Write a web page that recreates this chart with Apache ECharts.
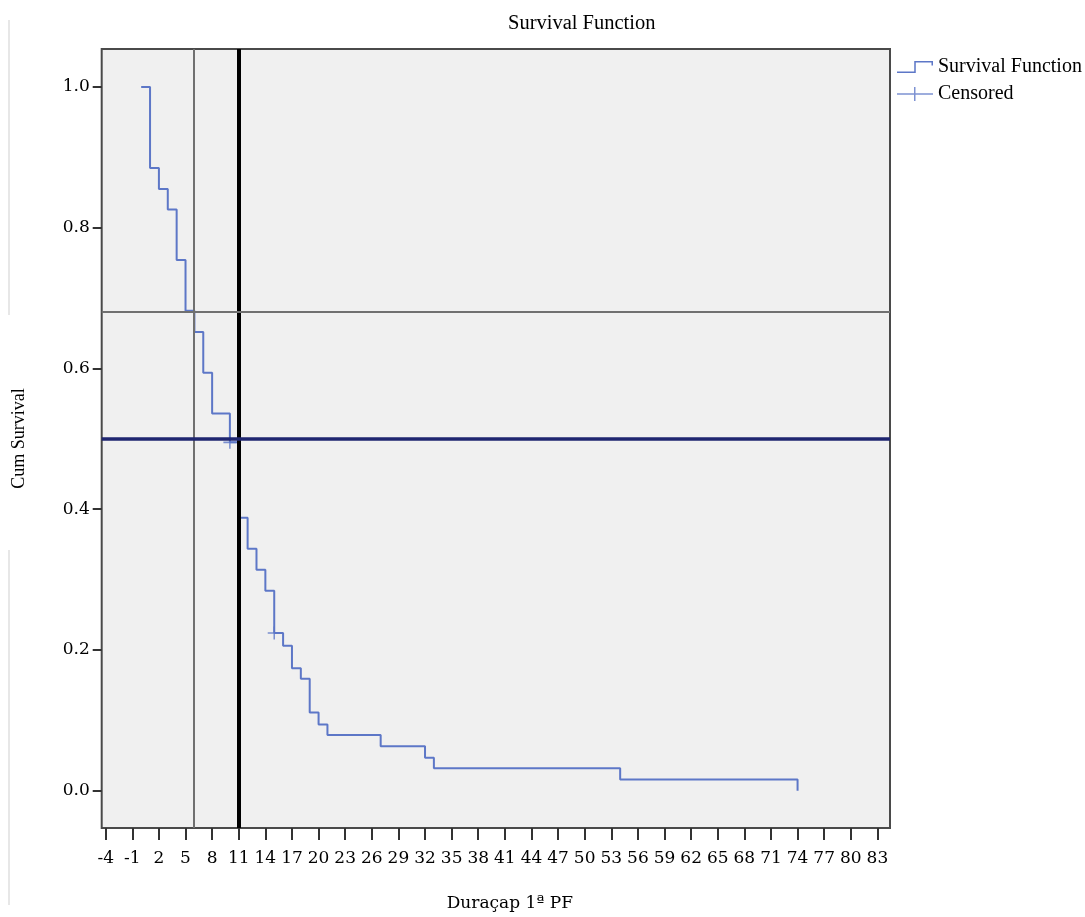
<!DOCTYPE html>
<html>
<head>
<meta charset="utf-8">
<script src="https://cdn.jsdelivr.net/npm/echarts@6.0.0/dist/echarts.min.js"></script>
<style>
  body { margin: 0; background: #fff; }
  #chart1 { width: 1085px; height: 917px; }
</style>
</head>
<body>
<div id="chart1"></div>
<script>
// step times and survival value after each step
const times = [0, 1, 2, 3, 4, 5, 6, 7, 8, 10, 11, 12, 13, 14, 15, 16, 17, 18, 19, 20, 21, 27, 32, 33, 54, 74]
const survival = [1.0, 0.885, 0.855, 0.826, 0.754, 0.682, 0.652, 0.594, 0.536, 0.495, 0.388, 0.344, 0.314, 0.284, 0.224, 0.206, 0.174, 0.159, 0.111, 0.094, 0.079, 0.063, 0.047, 0.032, 0.016, 0.0]

// censored cases
const censorTimes = [10, 15]
const censorSurv = [0.495, 0.224]

// reference lines
const refTimes = [5.9, 11]
const refSurv = [0.682, 0.496]

const xTicks = [-4, -1, 2, 5, 8, 11, 14, 17, 20, 23, 26, 29, 32, 35, 38, 41, 44, 47, 50, 53, 56, 59, 62, 65, 68, 71, 74, 77, 80, 83]
const yTicks = [0, 0.2, 0.4, 0.6, 0.8, 1.0]

const stepIcon = 'path://M0,11L17,11L17,0.5L35.5,0.5L35.5,5L34,5L34,2L18.5,2L18.5,12.5L0,12.5Z'
const crossIcon = 'path://M0,6.25L17,6.25L17,0L18.5,0L18.5,6.25L36,6.25L36,7.75L18.5,7.75L18.5,14L17,14L17,7.75L0,7.75Z'
const crossMark = 'path://M0,5.3L5.3,5.3L5.3,0L6.7,0L6.7,5.3L12,5.3L12,6.7L6.7,6.7L6.7,12L5.3,12L5.3,6.7L0,6.7Z'

function createChart() {
    let chart = echarts.init(document.getElementById("chart1"))

    let curve = times.map((t, i) => [t, survival[i]])
    let censored = censorTimes.map((t, i) => [t, censorSurv[i]])

    let refLines = []
    refLines.push({ xAxis: refTimes[0], lineStyle: { color: '#707070', width: 2, type: 'solid' } })
    refLines.push({ xAxis: refTimes[1], lineStyle: { color: '#000', width: 4, type: 'solid' } })
    refLines.push({ yAxis: refSurv[0], lineStyle: { color: '#707070', width: 2, type: 'solid' } })
    refLines.push({ yAxis: refSurv[1], lineStyle: { color: '#1f2670', width: 3.5, type: 'solid' } })

    option = {
        animation: false,
        title: {
            text: 'Survival Function',
            left: 503,
            top: 8,
            textStyle: { fontFamily: 'Liberation Serif', fontSize: 20.5, fontWeight: 'normal', color: '#000' }
        },
        legend: {
            orient: 'vertical',
            left: 892,
            top: 52,
            itemWidth: 36,
            itemHeight: 14,
            itemGap: 7,
            textStyle: { fontFamily: 'Liberation Serif', fontSize: 20, color: '#000' },
            data: [
                { name: 'Survival Function', icon: stepIcon },
                { name: 'Censored', icon: crossIcon }
            ]
        },
        grid: {
            left: 101.7,
            right: 195,
            top: 49,
            bottom: 84.3,
            show: true,
            backgroundColor: '#f0f0f0',
            borderColor: '#4a4a4a',
            borderWidth: 2
        },
        xAxis: {
            type: 'value',
            min: -4.45,
            max: 84.42,
            name: 'Duraçap 1ª PF',
            nameLocation: 'middle',
            nameGap: 67,
            nameTextStyle: { fontFamily: 'DejaVu Serif', fontSize: 17, color: '#000', padding: [0, 0, 0, 28] },
            axisLine: { show: false, onZero: false },
            splitLine: { show: false },
            axisTick: { show: true, customValues: xTicks, length: 12, lineStyle: { color: '#333', width: 2 } },
            axisLabel: {
                customValues: xTicks,
                margin: 22,
                fontFamily: 'DejaVu Serif',
                fontSize: 17,
                color: '#000',
                formatter: v => String(Math.round(v))
            }
        },
        yAxis: {
            type: 'value',
            min: -0.053,
            max: 1.054,
            name: 'Cum Survival',
            nameLocation: 'middle',
            nameRotate: 90,
            nameGap: 73,
            nameTextStyle: { fontFamily: 'Liberation Serif', fontSize: 18, color: '#000' },
            axisLine: { show: false, onZero: false },
            splitLine: { show: false },
            axisTick: { show: true, customValues: yTicks, length: 9, lineStyle: { color: '#333', width: 2 } },
            axisLabel: {
                customValues: yTicks,
                margin: 12,
                fontFamily: 'DejaVu Serif',
                fontSize: 17,
                color: '#000',
                formatter: v => v.toFixed(1)
            }
        },
        graphic: [
            { type: 'line', shape: { x1: 9, y1: 20, x2: 9, y2: 315 }, style: { stroke: '#cfcfcf', lineWidth: 1 } },
            { type: 'line', shape: { x1: 9, y1: 550, x2: 9, y2: 905 }, style: { stroke: '#cfcfcf', lineWidth: 1 } }
        ],
        series: [
            {
                name: 'Survival Function',
                type: 'line',
                step: 'end',
                data: curve,
                showSymbol: false,
                color: '#5d77c7',
                lineStyle: { color: '#5d77c7', width: 2 },
                z: 2
            },
            {
                name: 'Censored',
                type: 'scatter',
                data: censored,
                symbol: crossMark,
                symbolSize: 13,
                itemStyle: { color: '#5d77c7' },
                z: 2
            },
            {
                name: 'ref',
                type: 'line',
                data: [],
                z: 4,
                markLine: {
                    silent: true,
                    symbol: 'none',
                    label: { show: false },
                    data: refLines
                }
            }
        ]
    }
    chart.setOption(option)
}

document.addEventListener("DOMContentLoaded", () => {
    createChart()
})
</script>
</body>
</html>
